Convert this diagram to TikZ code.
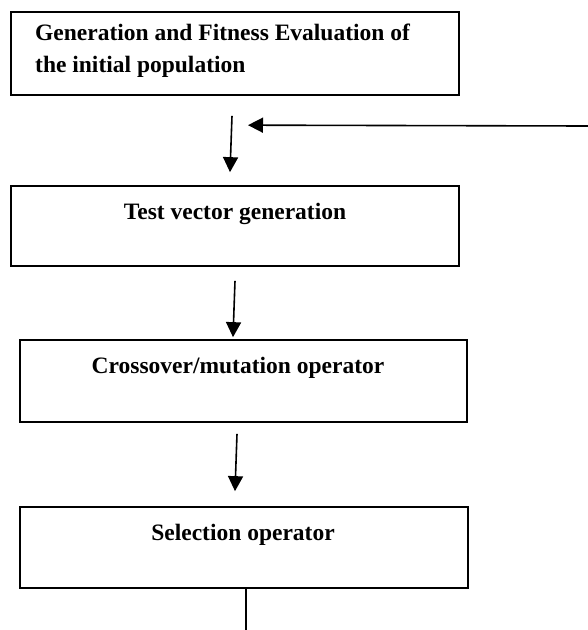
\documentclass[tikz,border=0pt]{standalone}
\usepackage{fontspec}
\setmainfont{Liberation Serif}
\usetikzlibrary{arrows.meta}
\tikzset{
  box/.style={draw=black, line width=1.7pt, rectangle, inner sep=0pt},
  lbl/.style={inner sep=0pt, font=\fontsize{23.5}{28}\selectfont\bfseries},
  arr/.style={draw=black, line width=1.6pt, -{Triangle[length=15pt,width=15pt]}},
  plain/.style={draw=black, line width=1.6pt}
}
\begin{document}
\begin{tikzpicture}[x=1pt,y=-1pt]
\useasboundingbox (0,0) rectangle (588,630);
% boxes
\node[box, minimum width=448pt, minimum height=83pt] (b1) at (235,53.5) {};
\node[box, minimum width=448pt, minimum height=80pt] (b2) at (235,226) {};
\node[box, minimum width=447pt, minimum height=82pt] (b3) at (243.5,381) {};
\node[box, minimum width=448pt, minimum height=81pt] (b4) at (244,547.5) {};
% texts
\node[lbl, anchor=base west] (t1a) at (35,40.5) {Generation and Fitness Evaluation of};
\node[lbl, anchor=base west] (t1b) at (35,72) {the initial population};
\node[lbl, anchor=base] (t2) at (235,219) {Test vector generation};
\node[lbl, anchor=base] (t3) at (238,373) {Crossover/mutation operator};
\node[lbl, anchor=base] (t4) at (243,540) {Selection operator};
% connectors
\coordinate (fb) at (588,126);
\draw[arr] ([shift={(-3,20)}]b1.south) -- ([shift={(-5,-13)}]b2.north);
\draw[arr] (fb) -- ([shift={(13,-60)}]b2.north);
\draw[arr] ([shift={(0,14)}]b2.south) -- ([shift={(-10.5,-2)}]b3.north);
\draw[arr] ([shift={(-6.5,11)}]b3.south) -- ([shift={(-9,-15)}]b4.north);
\coordinate (fe) at (246,630);
\draw[plain] ([xshift=2pt]b4.south) -- (fe);
\end{tikzpicture}
\end{document}
